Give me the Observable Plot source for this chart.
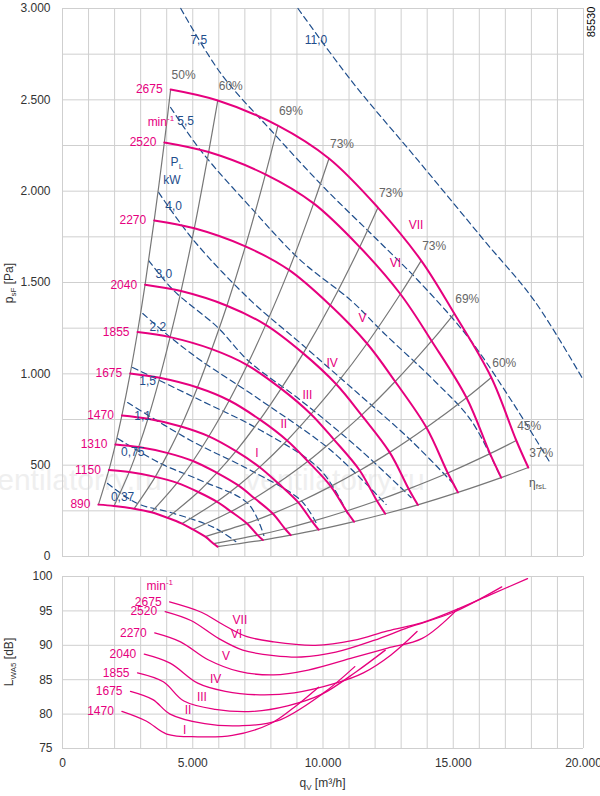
<!DOCTYPE html><html><head><meta charset="utf-8">
<script src="https://cdn.jsdelivr.net/npm/d3@7"></script>
<script src="https://cdn.jsdelivr.net/npm/@observablehq/plot@0.6"></script>
<style>body{margin:0;background:#fff;font-family:"Liberation Sans",Arial,sans-serif}svg{display:block}</style>
</head><body><div id="c"></div><script>
// ---- fan curves (top chart): q [m3/h], p [Pa]
const speeds = [2675,2520,2270,2040,1855,1675,1470,1310,1150,890];
const q2675=[4150,5960,8270,10230,12110,13770,15040,16460,17420,17880], p2675=[2556,2496,2359,2179,1910,1620,1330,980,635,487];
const q2520=[3910,5610,7790,9640,11410,12970,14170,15510,16410,16840], p2520=[2267,2214,2092,1933,1694,1437,1180,869,563,432];
const q2270=[3520,5060,7020,8690,10280,11690,12770,13970,14790,15180], p2270=[1840,1797,1698,1569,1375,1166,958,706,457,351];
const q2040=[3170,4550,6310,7800,9240,10510,11480,12560,13290,13640], p2040=[1488,1453,1373,1268,1112,943,774,570,370,283];
const q1855=[2880,4130,5730,7090,8390,9540,10420,11410,12070,12390], p1855=[1229,1201,1135,1048,919,779,640,471,305,234];
const q1675=[2600,3730,5180,6400,7580,8620,9420,10300,10900,11190], p1675=[1002,978,925,854,749,635,521,384,249,191];
const q1470=[2280,3280,4550,5620,6660,7570,8270,9050,9580,9830], p1470=[772,754,712,658,577,489,402,296,192,147];
const q1310=[2030,2920,4050,5010,5930,6750,7370,8070,8540,8760], p1310=[613,599,566,523,458,389,319,235,152,117];
const q1150=[1780,2560,3560,4400,5210,5920,6470,7080,7490,7690], p1150=[473,462,436,403,353,300,246,181,117,90];
const q890=[1380,1980,2750,3410,4030,4590,5010,5480,5800,5950], p890=[284,277,262,242,212,180,148,109,70,54];
const roman = ["VII","VI","V","IV","III","II","I"];
const effLabels = ["50%","60%","69%","73%","73%","73%","69%","60%","45%","37%"];
// ---- power lines P_L [kW]
const powerLabels = ["0,37","0,75","1,1","1,5","2,2","3,0","4,0","5,5","7,5","11,0"];
const pw037Q=[1730,2880,4150,5810,6650], pw037P=[400,290,241,159,82];
const pw075Q=[2120,3770,5310,7120,7730], pw075P=[646,509,416,290,115];
const pw11Q=[2500,4920,7230,9150,9730], pw11P=[843,635,471,307,186];
const pw15Q=[2690,5310,7620,9920,10960], pw15P=[1035,854,690,471,230];
const pw22Q=[3080,4150,5310,7620,10310,12420], pw22P=[1330,1199,1073,854,580,285];
const pw30Q=[3310,4270,5960,7120,9150,11460,13380], pw30P=[1620,1456,1254,1073,854,580,323];
const pw40Q=[3690,5040,7230,9150,11350,13380,15110], pw40P=[1993,1730,1401,1166,892,635,383];
const pw55Q=[4150,5310,7230,9150,11080,12350,14270,15690,16770], pw55P=[2458,2222,1910,1620,1401,1221,963,744,449];
const pw75Q=[4540,6080,8120,10040,12110,13650,15580,17230,18690], pw75P=[3000,2644,2315,2020,1730,1511,1199,854,520];
const pw110Q=[9040,11080,13650,16190,18110,20000], pw110P=[3000,2606,2168,1730,1401,965];
// ---- sound power (bottom chart): q [m3/h], L [dB]
const soundSpeeds = [2675,2520,2270,2040,1855,1675,1470];
const lq2675=[4110,5330,6120,7050,8110,9700,11160,12480,13810,15000,16460,17850], ld2675=[96.3,94.8,93.1,91.3,90.5,90.0,90.7,92.1,93.3,95.0,97.4,99.7];
const lq2520=[3940,4930,5990,6920,8110,9170,10490,11950,13280,15000,16860], ld2520=[94.9,93.6,91.0,89.3,88.5,88.3,89.0,90.7,92.6,94.8,98.5];
const lq2270=[3540,4530,5590,6780,8110,9430,11160,12480,13810,15180], ld2270=[91.8,90.5,87.9,86.2,85.7,86.4,88.2,89.6,91.0,95.3];
const lq2040=[3140,4130,5190,6250,7580,8900,10490,11550,12610,13610], ld2040=[88.7,87.4,84.5,83.3,82.8,83.1,84.5,86.0,88.6,92.0];
const lq1855=[2880,3870,4660,5860,7310,8640,9960,11290,12390], ld1855=[86.0,84.7,81.9,80.7,80.4,81.2,82.9,86.2,89.3];
const lq1675=[2610,3470,4130,5460,6780,8240,9960,11220], ld1675=[83.3,82.1,80.0,78.6,78.3,79.0,82.9,86.9];
const lq1470=[2280,3210,4000,5190,6520,7980,8900,9830], ld1470=[80.4,79.0,77.1,76.7,76.9,78.6,81.0,83.9];
const xTicks=[0,5000,10000,15000,20000], pTicks=[0,500,1000,1500,2000,2500,3000], lTicks=[75,80,85,90,95,100];

const MAG="#e6007e", GREY="#777", BLUE="#1f4e8c", GRID="#cfcfcf";
const fmt = d => d===0 ? "0" : d3.format(",")(d).replace(/,/g,".");
const fanQ=[q2675,q2520,q2270,q2040,q1855,q1675,q1470,q1310,q1150,q890];
const fanP=[p2675,p2520,p2270,p2040,p1855,p1675,p1470,p1310,p1150,p890];
const fanRows = speeds.flatMap((s,i)=>fanQ[i].map((q,j)=>({s,j,q,p:fanP[i][j]})));
const effRows = effLabels.flatMap((l,j)=>speeds.map((s,i)=>({j,q:fanQ[i][j],p:fanP[i][j]})));
const pwQ=[pw037Q,pw075Q,pw11Q,pw15Q,pw22Q,pw30Q,pw40Q,pw55Q,pw75Q,pw110Q];
const pwP=[pw037P,pw075P,pw11P,pw15P,pw22P,pw30P,pw40P,pw55P,pw75P,pw110P];
const pwRows = powerLabels.flatMap((l,i)=>pwQ[i].map((q,j)=>({l,q,p:pwP[i][j]})));
const pwStart = powerLabels.map((l,i)=>({l,q:pwQ[i][0],p:pwP[i][0]}));
const pwTop = pwStart.filter(d=>d.p>=3000), pwLow = pwStart.filter(d=>d.p<3000);
const spStart = speeds.map((s,i)=>({s,q:fanQ[i][0],p:fanP[i][0]}));
const effTop = effLabels.map((l,j)=>({l,q:q2675[j],p:p2675[j]}));
const romanPts = roman.map((r,i)=>({r,k:speeds[i]/speeds[0],q:fanQ[i][4],p:fanP[i][4]}));

const topPlot = Plot.plot({
  width:600,height:570,marginTop:8,marginBottom:14,marginLeft:62,marginRight:17,
  x:{domain:[0,20000],axis:null},
  y:{domain:[0,3000]},
  style:{fontFamily:"Liberation Sans, Arial, sans-serif",fontSize:"12px",color:"#333",overflow:"visible"},
  marks:[
    Plot.gridX(d3.range(0,20001,1000),{stroke:GRID,strokeOpacity:1}),
    Plot.gridY(d3.range(0,3001,250),{stroke:GRID,strokeOpacity:1}),
    Plot.axisY(pTicks,{tickSize:0,tickPadding:12,tickFormat:fmt,label:null,fill:"#333"}),
    Plot.line(pwRows,{x:"q",y:"p",z:"l",stroke:BLUE,strokeWidth:1.2,strokeDasharray:"6,4",curve:"catmull-rom"}),
    Plot.line(effRows,{x:"q",y:"p",z:"j",stroke:GREY,strokeWidth:1.2,curve:"catmull-rom"}),
    Plot.line(fanRows,{x:"q",y:"p",z:"s",stroke:MAG,strokeWidth:2,curve:"catmull-rom"}),
    Plot.text(spStart,{x:"q",y:"p",text:d=>String(d.s),dx:-8,textAnchor:"end",fill:MAG,fontSize:12}),
    Plot.text(pwLow,{x:"q",y:"p",text:"l",dx:15,dy:14,fill:BLUE,fontSize:12}),
    Plot.text(pwTop,{x:"q",y:"p",text:"l",dx:18,dy:32,fill:BLUE,fontSize:12}),
    Plot.text(effTop,{x:"q",y:"p",text:"l",dx:13,dy:-14,fill:"#666",fontSize:12}),
    ...romanPts.map(d=>Plot.text([d],{x:"q",y:"p",text:"r",dx:38*d.k,dy:36*d.k-18,fill:MAG,fontSize:12}))
  ]
});
const soundQ=[lq2675,lq2520,lq2270,lq2040,lq1855,lq1675,lq1470];
const soundL=[ld2675,ld2520,ld2270,ld2040,ld1855,ld1675,ld1470];
const soundRows = soundSpeeds.flatMap((s,i)=>soundQ[i].map((q,j)=>({s,q,l:soundL[i][j]})));
const soundStart = soundSpeeds.map((s,i)=>({s,q:soundQ[i][0],l:soundL[i][0]}));
const soundRoman = roman.map((r,i)=>({r,q:soundQ[i][2],l:soundL[i][2]}));
const bottomPlot = Plot.plot({
  width:600,height:226,marginTop:6,marginBottom:48,marginLeft:62,marginRight:17,
  x:{domain:[0,20000]},y:{domain:[75,100]},
  style:{fontFamily:"Liberation Sans, Arial, sans-serif",fontSize:"12px",color:"#333",overflow:"visible"},
  marks:[
    Plot.gridX(d3.range(0,20001,1000),{stroke:GRID,strokeOpacity:1}),
    Plot.gridY(lTicks,{stroke:GRID,strokeOpacity:1}),
    Plot.axisY(lTicks,{tickSize:0,tickPadding:10,label:null,fill:"#333"}),
    Plot.axisX(xTicks,{tickSize:0,tickPadding:10,tickFormat:fmt,label:null,fill:"#333"}),
    Plot.line(soundRows,{x:"q",y:"l",z:"s",stroke:MAG,strokeWidth:1.3,curve:"catmull-rom"}),
    Plot.text(soundStart,{x:"q",y:"l",text:d=>String(d.s),dx:-8,textAnchor:"end",fill:MAG,fontSize:12}),
    Plot.text(soundRoman,{x:"q",y:"l",text:"r",dx:18,dy:-4,fill:MAG,fontSize:12})
  ]
});
const c=document.getElementById("c");
c.appendChild(topPlot); c.appendChild(bottomPlot);

const xs=topPlot.scale("x"), ys=topPlot.scale("y");
const X=v=>xs.apply(v), Y=v=>ys.apply(v);
const ts=d3.select(topPlot);
// watermark
[[72,490],[335,490]].forEach(([x,y])=>ts.insert("text",":first-child").attr("x",x).attr("y",y)
  .attr("font-size",30).attr("fill","#efefef").text("ventilatorry.ru"));
// y label
let t=ts.append("text").attr("transform","translate(13,283) rotate(-90)").attr("text-anchor","middle").attr("font-size",12).attr("fill","#333");
t.append("tspan").text("p"); t.append("tspan").text("sF").attr("font-size",8).attr("dy",3); t.append("tspan").text(" [Pa]").attr("dy",-3);
// 85530
ts.append("text").attr("transform","translate(595,22) rotate(-90)").attr("text-anchor","middle").attr("font-size",11).attr("fill","#000").text("85530");
// min-1 and P_L kW
t=ts.append("text").attr("x",X(q2675[0])+4).attr("y",Y(p2675[0])+37).attr("text-anchor","end").attr("font-size",12).attr("fill",MAG);
t.append("tspan").text("min"); t.append("tspan").text("-1").attr("font-size",8).attr("dy",-5);
t=ts.append("text").attr("x",X(q2520[0])+13).attr("y",Y(p2520[0])+24).attr("font-size",12).attr("fill",BLUE);
t.append("tspan").text("P"); t.append("tspan").text("L").attr("font-size",8).attr("dy",3);
ts.append("text").attr("x",X(q2520[0])+8).attr("y",Y(p2520[0])+42).attr("font-size",12).attr("fill",BLUE).text("kW");
// eta label
t=ts.append("text").attr("x",X(q2675[9])+10).attr("y",Y(p2675[9])+20).attr("font-size",12).attr("fill","#555");
t.append("tspan").text("η"); t.append("tspan").text("fsL").attr("font-size",8).attr("dy",2);

const bs=d3.select(bottomPlot);
const bx=bottomPlot.scale("x"), by=bottomPlot.scale("y");
t=bs.append("text").attr("transform","translate(13,92) rotate(-90)").attr("text-anchor","middle").attr("font-size",12).attr("fill","#333");
t.append("tspan").text("L"); t.append("tspan").text("WA5").attr("font-size",8).attr("dy",3); t.append("tspan").text(" [dB]").attr("dy",-3);
t=bs.append("text").attr("x",bx.apply(10000)).attr("y",217).attr("text-anchor","middle").attr("font-size",12).attr("fill","#333");
t.append("tspan").text("q"); t.append("tspan").text("V").attr("font-size",8).attr("dy",3); t.append("tspan").text(" [m³/h]").attr("dy",-3);
t=bs.append("text").attr("x",bx.apply(lq2675[0])+4).attr("y",by.apply(ld2675[0])-11).attr("text-anchor","end").attr("font-size",12).attr("fill",MAG);
t.append("tspan").text("min"); t.append("tspan").text("-1").attr("font-size",8).attr("dy",-5);
</script></body></html>
